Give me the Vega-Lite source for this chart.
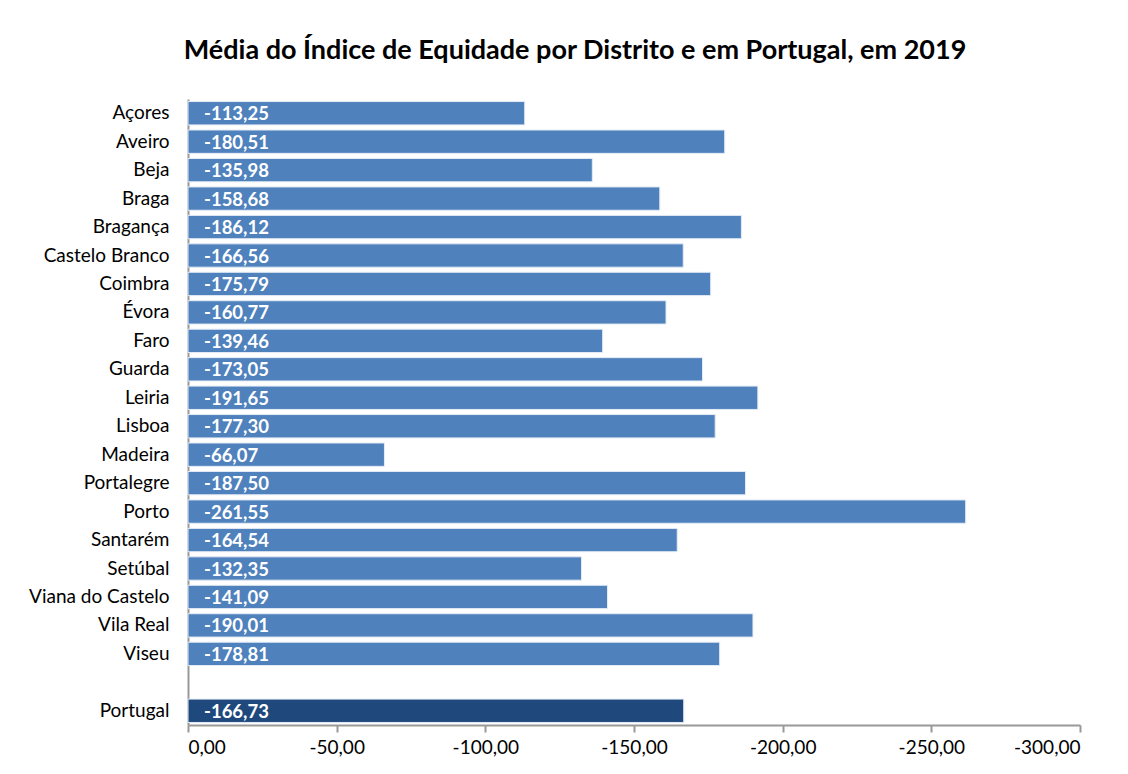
{
  "$schema": "https://vega.github.io/schema/vega-lite/v6.json",
  "width": 892,
  "height": 626,
  "autosize": {"type": "none"},
  "padding": {"left": 188, "top": 99, "right": 48, "bottom": 49},
  "background": "white",
  "title": {
    "text": "Média do Índice de Equidade por Distrito  e em Portugal, em 2019",
    "font": "Lato",
    "fontSize": 27,
    "fontWeight": "bold",
    "color": "#000000",
    "anchor": "middle",
    "dx": -59,
    "offset": 34
  },
  "config": {
    "locale": {
      "number": {"decimal": ",", "thousands": ".", "grouping": [3], "currency": ["€", ""], "minus": "-"}
    },
    "view": {"stroke": null},
    "font": "Lato"
  },
  "data": {
    "values": [
      {"distrito": "Açores", "valor": -113.25, "tipo": "d"},
      {"distrito": "Aveiro", "valor": -180.51, "tipo": "d"},
      {"distrito": "Beja", "valor": -135.98, "tipo": "d"},
      {"distrito": "Braga", "valor": -158.68, "tipo": "d"},
      {"distrito": "Bragança", "valor": -186.12, "tipo": "d"},
      {"distrito": "Castelo Branco", "valor": -166.56, "tipo": "d"},
      {"distrito": "Coimbra", "valor": -175.79, "tipo": "d"},
      {"distrito": "Évora", "valor": -160.77, "tipo": "d"},
      {"distrito": "Faro", "valor": -139.46, "tipo": "d"},
      {"distrito": "Guarda", "valor": -173.05, "tipo": "d"},
      {"distrito": "Leiria", "valor": -191.65, "tipo": "d"},
      {"distrito": "Lisboa", "valor": -177.30, "tipo": "d"},
      {"distrito": "Madeira", "valor": -66.07, "tipo": "d"},
      {"distrito": "Portalegre", "valor": -187.50, "tipo": "d"},
      {"distrito": "Porto", "valor": -261.55, "tipo": "d"},
      {"distrito": "Santarém", "valor": -164.54, "tipo": "d"},
      {"distrito": "Setúbal", "valor": -132.35, "tipo": "d"},
      {"distrito": "Viana do Castelo", "valor": -141.09, "tipo": "d"},
      {"distrito": "Vila Real", "valor": -190.01, "tipo": "d"},
      {"distrito": "Viseu", "valor": -178.81, "tipo": "d"},
      {"distrito": " ", "valor": null, "tipo": "d"},
      {"distrito": "Portugal", "valor": -166.73, "tipo": "p"}
    ]
  },
  "encoding": {
    "y": {
      "field": "distrito",
      "type": "nominal",
      "sort": ["Açores", "Aveiro", "Beja", "Braga", "Bragança", "Castelo Branco", "Coimbra", "Évora", "Faro", "Guarda", "Leiria", "Lisboa", "Madeira", "Portalegre", "Porto", "Santarém", "Setúbal", "Viana do Castelo", "Vila Real", "Viseu", " ", "Portugal"],
      "scale": {"paddingInner": 0.18, "paddingOuter": 0.09},
      "axis": {
        "title": null,
        "labelFont": "Lato",
        "labelFontSize": 19,
        "labelColor": "#000000",
        "labelPadding": 19,
        "ticks": false,
        "domain": true,
        "domainColor": "#999999",
        "domainWidth": 2
      }
    }
  },
  "layer": [
    {
      "mark": {"type": "bar", "stroke": "#e3ebf5", "strokeWidth": 1},
      "encoding": {
        "x": {
          "field": "valor",
          "type": "quantitative",
          "scale": {"domain": [-300, 0], "reverse": true, "nice": false},
          "axis": {
            "title": null,
            "values": [0, -50, -100, -150, -200, -250, -300],
            "format": ".2f",
            "labelFont": "Lato",
            "labelFontSize": 19,
            "labelColor": "#000000",
            "labelPadding": 6,
            "grid": false,
            "domainColor": "#999999",
            "domainWidth": 2,
            "tickColor": "#999999",
            "tickWidth": 2,
            "tickSize": 7
          }
        },
        "color": {
          "field": "tipo",
          "type": "nominal",
          "scale": {"domain": ["d", "p"], "range": ["#4F81BD", "#1F497D"]},
          "legend": null
        }
      }
    },
    {
      "mark": {"type": "text", "align": "left", "baseline": "middle", "dx": 16, "dy": 1, "color": "white", "fontWeight": "bold", "fontSize": 18.5, "font": "Lato"},
      "encoding": {
        "x": {"datum": 0, "type": "quantitative"},
        "text": {"field": "valor", "type": "quantitative", "format": ".2f"}
      }
    }
  ]
}
